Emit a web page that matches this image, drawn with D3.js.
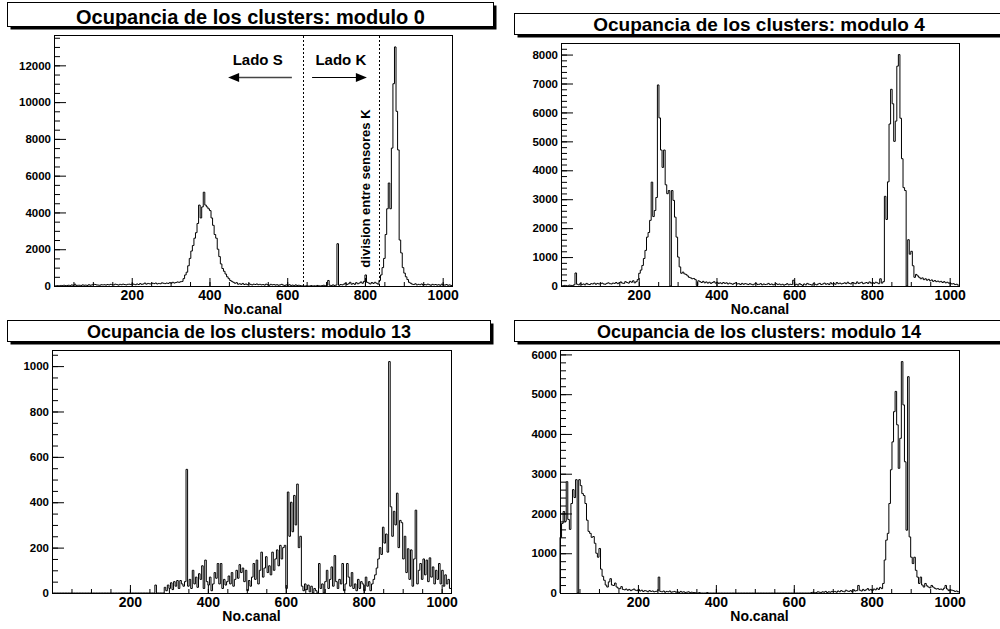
<!DOCTYPE html>
<html>
<head>
<meta charset="utf-8">
<script src="https://cdn.jsdelivr.net/npm/d3@7"></script>
<style>
  body { margin: 0; background: #fff; }
  svg { display: block; font-family: "Liberation Sans", Arial, Helvetica, sans-serif; font-weight: bold; }
</style>
</head>
<body>
<svg id="chart" width="1000" height="629"></svg>
<script>
// Cluster occupancy per channel, 4 channels per bin, 256 bins (0..1023)
const binWidth = 4;
const nChannels = 1024;

const module0 = [
  0,10,20,10,30,20,40,20,30,40,20,60,30,100,20,40,
  40,30,60,40,50,30,70,40,60,100,80,60,50,40,70,60,
  70,50,80,60,90,70,60,100,80,50,90,70,100,80,60,90,
  100,80,120,90,70,110,80,130,90,110,160,100,140,120,110,150,
  130,160,110,140,120,170,150,130,160,140,180,150,200,160,190,220,
  200,230,250,400,600,750,1100,1500,1900,2200,2600,2900,3400,4400,3700,4300,
  5100,4400,4300,4200,4100,3700,3300,2800,2600,2000,1600,1200,950,800,650,500,
  400,300,250,200,150,180,100,120,90,140,80,110,70,120,90,60,
  100,80,110,70,90,60,80,50,100,70,40,90,60,80,50,70,
  40,60,90,50,30,60,40,70,30,50,20,60,30,40,20,10,
  0,0,10,0,0,20,0,10,0,30,10,0,20,40,10,30,
  300,40,20,60,30,50,2300,40,80,60,100,150,80,120,200,100,
  140,90,180,120,160,220,150,250,600,200,160,110,190,140,200,150,
  100,300,600,1000,1500,2800,4200,5600,4200,7500,11000,13000,9500,7400,2500,1800,
  1000,700,500,350,200,150,100,80,120,60,90,70,110,50,80,60,
  100,70,40,90,60,80,50,70,40,100,60,50,80,40,60,30
];

const module4 = [
  0,10,20,10,0,30,20,10,40,450,60,40,80,50,70,40,
  90,60,50,80,70,100,60,90,70,80,100,70,60,90,110,80,
  70,100,90,120,80,110,140,100,90,150,120,100,160,130,180,110,
  150,220,440,550,710,950,1230,1690,1850,2270,3590,2400,2610,3060,6950,5810,
  4700,4100,4700,3500,3190,3300,0,3300,2960,2380,1690,1000,660,440,480,420,
  400,350,300,280,250,260,220,20,180,150,120,160,110,140,100,130,
  90,120,150,100,130,90,110,80,120,90,110,70,100,80,60,90,
  110,70,80,50,90,60,80,70,50,80,60,40,70,90,50,60,
  80,40,70,50,60,90,50,70,40,60,80,50,70,40,60,30,
  50,80,40,60,50,200,40,60,30,80,50,20,70,40,90,60,
  50,30,80,60,40,70,90,50,70,100,60,80,50,110,70,90,
  60,120,80,100,70,90,110,80,130,90,70,120,100,80,140,90,
  110,130,80,100,120,90,140,100,120,90,130,110,80,250,100,150,
  3100,2300,3600,5600,6800,6300,5000,5700,7600,8000,5800,4400,3400,3300,0,1600,
  1100,1200,700,300,400,350,300,250,280,220,250,200,230,180,210,160,
  190,150,170,140,160,120,150,110,130,100,90,70,80,50,60,30
];

const module13 = [
  0,0,0,0,0,0,0,0,0,0,0,0,0,0,0,0,
  0,0,0,0,0,0,0,0,0,0,0,0,0,0,0,0,
  0,0,0,0,0,0,0,0,0,0,0,0,0,0,0,0,
  0,0,0,0,0,0,0,0,0,0,0,0,0,0,0,0,
  0,0,35,0,0,0,0,0,25,10,35,20,45,15,50,30,
  55,20,55,40,30,50,545,30,60,20,100,40,70,25,85,60,
  120,20,145,50,35,70,10,40,90,65,130,40,130,20,60,35,
  50,75,40,90,30,60,100,65,125,90,110,50,100,10,55,30,
  70,130,60,145,40,100,180,70,110,160,90,120,80,180,100,150,
  190,120,210,150,200,210,20,445,250,400,270,430,300,480,200,250,
  30,10,40,15,35,5,30,0,20,10,0,130,20,40,0,50,
  100,20,60,115,30,165,50,20,60,40,130,10,40,130,70,30,
  90,20,40,10,60,20,50,40,10,70,30,50,10,40,60,80,
  110,150,200,170,290,220,260,180,1020,380,250,360,300,440,200,320,
  310,150,250,90,195,60,190,30,150,365,40,100,130,60,150,80,
  145,50,155,70,115,40,100,60,130,40,100,30,80,40,60,20
];

const module14 = [
  1400,1750,2050,1800,2800,1850,1600,2250,2600,2400,2850,0,2850,2700,2500,2450,
  2250,1830,1550,1500,1400,1420,1250,1000,900,1120,600,420,320,200,150,280,
  360,200,190,250,150,120,110,160,90,80,100,70,90,60,80,100,
  70,60,90,50,70,40,60,50,30,60,40,50,30,40,50,400,
  40,30,50,20,40,30,50,20,30,40,20,30,10,40,20,30,
  10,20,30,10,20,10,10,0,0,10,0,0,0,0,10,0,
  0,0,0,0,0,0,0,0,0,0,0,0,0,0,0,0,
  0,0,0,0,0,0,0,0,0,0,0,0,0,0,0,0,
  0,0,0,0,0,0,0,0,0,0,0,0,0,0,0,0,
  0,0,0,0,0,0,0,0,0,0,0,0,0,0,0,0,
  0,10,20,0,10,30,20,10,30,20,40,10,30,20,40,30,
  40,20,50,30,60,40,30,70,50,40,60,30,80,50,60,190,
  70,50,90,60,80,110,70,90,60,100,80,120,90,140,110,240,
  830,1330,1500,2250,3100,3800,4560,5070,4230,3135,3890,5820,4730,3300,1580,5440,
  1410,900,740,900,570,400,240,400,200,150,240,180,150,130,190,150,
  120,100,110,90,100,80,120,190,100,60,80,70,60,40,50,30
];

// axis ticks
const xTicks = [0, 200, 400, 600, 800, 1000];
const xMinorStep = 50;
const yTicks0 = [0, 2000, 4000, 6000, 8000, 10000, 12000];
const yTicks4 = [0, 1000, 2000, 3000, 4000, 5000, 6000, 7000, 8000];
const yTicks13 = [0, 200, 400, 600, 800, 1000];
const yTicks14 = [0, 1000, 2000, 3000, 4000, 5000, 6000];

// module 0 annotations (channel / counts)
const sensorDivisions = [640, 836];

const svg = d3.select('#chart');

const panels = [
  { title: 'Ocupancia de los clusters: modulo 0', values: module0, yTicks: yTicks0, yMinor: 500,
    frame: { l: 54, r: 452, t: 35, b: 286 }, box: { x: 7.5, y: 2.5, w: 486, h: 24 },
    titleSize: 20, titleBase: 24 },
  { title: 'Ocupancia de los clusters: modulo 4', values: module4, yTicks: yTicks4, yMinor: 200,
    frame: { l: 561, r: 959, t: 43, b: 286 }, box: { x: 514.5, y: 13.5, w: 489, h: 21 },
    titleSize: 19, titleBase: 30.5 },
  { title: 'Ocupancia de los clusters: modulo 13', values: module13, yTicks: yTicks13, yMinor: 50,
    frame: { l: 52, r: 451, t: 350, b: 593 }, box: { x: 7.5, y: 320.5, w: 483, h: 21 },
    titleSize: 18, titleBase: 337.5 },
  { title: 'Ocupancia de los clusters: modulo 14', values: module14, yTicks: yTicks14, yMinor: 200,
    frame: { l: 560, r: 959, t: 350, b: 593 }, box: { x: 514.5, y: 320.5, w: 489, h: 21 },
    titleSize: 18, titleBase: 337.5 }
];

function drawPanel(p) {
  const g = svg.append('g');
  const x = d3.scaleLinear().domain([0, nChannels]).range([p.frame.l, p.frame.r]);
  const ymax = 1.05 * d3.max(p.values);
  const y = d3.scaleLinear().domain([0, ymax]).range([p.frame.b, p.frame.t]);

  // title pave with shadow
  g.append('rect')
    .attr('x', p.box.x + 3).attr('y', p.box.y + 3)
    .attr('width', p.box.w).attr('height', p.box.h)
    .attr('fill', '#000');
  g.append('rect')
    .attr('x', p.box.x).attr('y', p.box.y)
    .attr('width', p.box.w).attr('height', p.box.h)
    .attr('fill', '#fff').attr('stroke', '#000').attr('stroke-width', 1);
  g.append('text')
    .attr('x', p.box.x + p.box.w / 2)
    .attr('y', p.titleBase)
    .attr('text-anchor', 'middle')
    .style('font-size', p.titleSize + 'px')
    .text(p.title);

  // histogram outline
  const pts = p.values.map((v, i) => [i * binWidth, v]);
  pts.push([nChannels, p.values[p.values.length - 1]]);
  const line = d3.line()
    .x(d => x(d[0]))
    .y(d => y(d[1]))
    .curve(d3.curveStepAfter);
  g.append('path')
    .attr('d', line([[0, 0]].concat(pts)))
    .attr('fill', 'none')
    .attr('stroke', '#000')
    .attr('stroke-width', 1);

  // x axis (ticks pointing inward)
  const xAxis = g.append('g')
    .attr('transform', `translate(0,${p.frame.b})`)
    .call(d3.axisBottom(x).tickValues(xTicks).tickSize(-8).tickPadding(4)
      .tickFormat(d => d === 0 ? '' : d));
  xAxis.select('.domain').remove();
  xAxis.selectAll('text').attr('font-size', 14).attr('font-family', null).attr('font-weight', 'bold');
  const xMinor = g.append('g')
    .attr('transform', `translate(0,${p.frame.b})`)
    .call(d3.axisBottom(x).tickValues(d3.range(0, nChannels + 1, xMinorStep)).tickSize(-4).tickFormat(''));
  xMinor.select('.domain').remove();

  g.append('text')
    .attr('x', (p.frame.l + p.frame.r) / 2)
    .attr('y', p.frame.b + 28)
    .attr('text-anchor', 'middle')
    .style('font-size', '14px')
    .text('No.canal');

  // y axis
  const yAxis = g.append('g')
    .attr('transform', `translate(${p.frame.l},0)`)
    .call(d3.axisLeft(y).tickValues(p.yTicks).tickSize(-12).tickPadding(3).tickFormat(d3.format('d')));
  yAxis.select('.domain').remove();
  yAxis.selectAll('text').attr('font-size', 11.5).attr('font-family', null).attr('font-weight', 'bold');
  const yMinor = g.append('g')
    .attr('transform', `translate(${p.frame.l},0)`)
    .call(d3.axisLeft(y).tickValues(d3.range(0, ymax, p.yMinor)).tickSize(-6).tickFormat(''));
  yMinor.select('.domain').remove();

  // frame
  g.append('rect')
    .attr('x', Math.round(p.frame.l) + 0.5).attr('y', Math.round(p.frame.t) + 0.5)
    .attr('width', Math.round(p.frame.r - p.frame.l)).attr('height', Math.round(p.frame.b - p.frame.t))
    .attr('fill', 'none').attr('stroke', '#000').attr('stroke-width', 1);

  return { g, x, y };
}

const drawn = panels.map(drawPanel);

// annotations on module 0
const a = drawn[0];
sensorDivisions.forEach(ch => {
  a.g.append('line')
    .attr('x1', Math.round(a.x(ch)) + 0.5).attr('x2', Math.round(a.x(ch)) + 0.5)
    .attr('y1', a.y.range()[0]).attr('y2', a.y.range()[1])
    .attr('stroke', '#000').attr('stroke-width', 1)
    .attr('stroke-dasharray', '2,2');
});

a.g.append('text')
  .attr('x', a.x(524)).attr('y', a.y(12030))
  .attr('text-anchor', 'middle').style('font-size', '15px')
  .text('Lado S');
a.g.append('text')
  .attr('x', a.x(738)).attr('y', a.y(12030))
  .attr('text-anchor', 'middle').style('font-size', '15px')
  .text('Lado K');

function arrow(g, x1, x2, yy, w, color) {
  const dir = Math.sign(x2 - x1);
  g.append('line')
    .attr('x1', x1).attr('x2', x2 - dir * 9).attr('y1', yy).attr('y2', yy)
    .attr('stroke', color).attr('stroke-width', w);
  g.append('path')
    .attr('d', `M${x2},${yy}L${x2 - dir * 11},${yy - 4.5}L${x2 - dir * 11},${yy + 4.5}Z`)
    .attr('fill', '#000');
}
const arrowY = Math.round(a.y(11340)) + 0.5;
arrow(a.g, a.x(612), a.x(448), arrowY, 1.6, '#444');
arrow(a.g, a.x(664), a.x(805), arrowY, 1, '#000');

a.g.append('text')
  .attr('transform', `translate(${a.x(813)},${a.y(5300)}) rotate(-90)`)
  .attr('text-anchor', 'middle').style('font-size', '13px')
  .text('division entre sensores K');
</script>
</body>
</html>
